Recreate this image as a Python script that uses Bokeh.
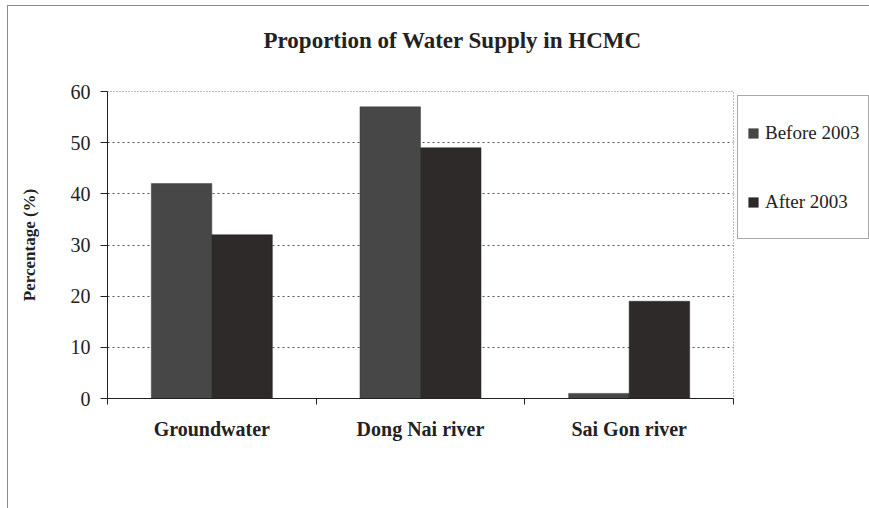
from bokeh.plotting import figure
from bokeh.models import (Range1d, FixedTicker, Legend, LegendItem, ColumnDataSource)
from bokeh.embed import file_html
from bokeh.resources import INLINE

# ---- data ----
categories = ["Groundwater", "Dong Nai river", "Sai Gon river"]
before_2003 = [42, 57, 1]
after_2003 = [32, 49, 19]
series_names = ["Before 2003", "After 2003"]
y_ticks = [0, 10, 20, 30, 40, 50, 60]
title_text = "Proportion of Water Supply  in HCMC"
y_label = "Percentage (%)"

FONT = "Liberation Serif"
bar_w = 0.29
centers = [i + 0.5 for i in range(len(categories))]

src_b = ColumnDataSource(dict(x=[c - bar_w / 2 for c in centers], top=before_2003))
src_a = ColumnDataSource(dict(x=[c + bar_w / 2 for c in centers], top=after_2003))

p = figure(frame_width=626, frame_height=307, output_backend="svg", toolbar_location=None,
           x_range=Range1d(0, len(categories)), y_range=Range1d(y_ticks[0], y_ticks[-1]),
           min_border_left=99, min_border_right=120, min_border_top=85, min_border_bottom=110)
p.background_fill_color = "white"
p.border_fill_color = "white"
p.outline_line_color = "#777777"
p.outline_line_dash = "1 2"
p.styles = {"border-left": "1px solid #8a8a8a", "border-top": "1px solid #8a8a8a",
            "margin-left": "7px", "margin-top": "5px"}

p.title.text = title_text + "\n"
p.title.align = "left"
p.title.offset = 156
p.title.standoff = 27
p.title.text_font = FONT
p.title.text_font_style = "bold"
p.title.text_font_size = "23px"
p.title.text_color = "#222222"

rb = p.vbar(x="x", top="top", width=bar_w, bottom=0, source=src_b,
            fill_color="#474747", line_color="#3a3a3a", line_width=0.5)
ra = p.vbar(x="x", top="top", width=bar_w, bottom=0, source=src_a,
            fill_color="#2e2a2a", line_color="#262222", line_width=0.5)

# grid
p.xgrid.visible = False
p.ygrid.grid_line_color = "#555555"
p.ygrid.grid_line_dash = "2 3"
p.ygrid.grid_line_width = 1
p.ygrid.ticker = FixedTicker(ticks=y_ticks)

# y axis
ya = p.yaxis[0]
ya.ticker = FixedTicker(ticks=y_ticks)
ya.axis_line_color = "#222222"
ya.major_tick_line_color = "#222222"
ya.major_tick_out = 7
ya.major_tick_in = 0
ya.minor_tick_line_color = None
ya.major_label_text_font = FONT
ya.major_label_text_font_size = "20px"
ya.major_label_text_color = "#222222"
ya.major_label_standoff = 10
ya.axis_label = y_label
ya.axis_label_text_font = FONT
ya.axis_label_text_font_style = "bold"
ya.axis_label_text_font_size = "17px"
ya.axis_label_text_color = "#222222"
ya.axis_label_standoff = 29

# x axis
xa = p.xaxis[0]
xa.ticker = FixedTicker(ticks=centers, minor_ticks=list(range(len(categories) + 1)))
xa.major_label_overrides = {c: name for c, name in zip(centers, categories)}
xa.axis_line_color = "#222222"
xa.major_tick_line_color = None
xa.minor_tick_line_color = "#222222"
xa.minor_tick_out = 6
xa.minor_tick_in = 0
xa.major_label_text_font = FONT
xa.major_label_text_font_style = "bold"
xa.major_label_text_font_size = "20px"
xa.major_label_text_color = "#222222"
xa.major_label_standoff = 13

legend = Legend(items=[LegendItem(label=series_names[0], renderers=[rb]),
                       LegendItem(label=series_names[1], renderers=[ra])],
                location="top_left", orientation="vertical",
                padding=9, spacing=14, label_height=55, glyph_height=12, glyph_width=12,
                label_standoff=6, label_text_font=FONT, label_text_font_size="19px",
                label_text_color="#222222", border_line_color="#555555", border_line_width=1.5,
                background_fill_color="white", margin=4)
p.add_layout(legend, "right")

open("out.html", "w").write(file_html(p, INLINE))
